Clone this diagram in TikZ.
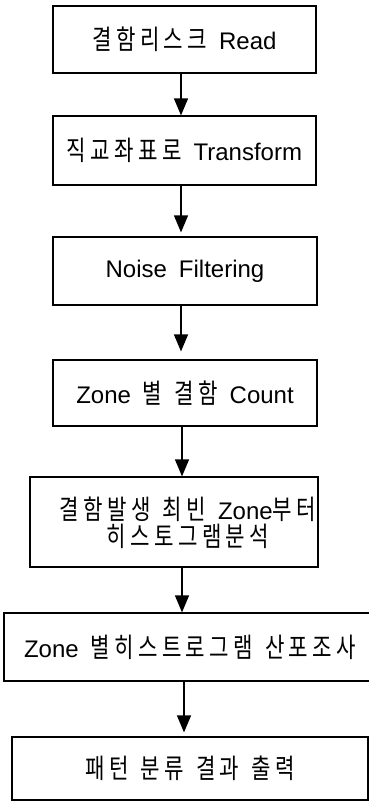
\documentclass[tikz,border=0pt]{standalone}
\usepackage{fontspec}
\setmainfont{Liberation Sans}[WordSpace=1.8]
\newfontfamily\kr{Noto Sans CJK KR}[Scale=1.13,FakeStretch=0.78,LetterSpace=16,WordSpace=1.8]
\usetikzlibrary{arrows.meta}
\begin{document}
\begin{tikzpicture}[x=1pt,y=-1pt,
  box/.style={draw=black, line width=1.2pt, rectangle, inner sep=0pt, align=center,
    font=\fontsize{24}{27}\selectfont},
  txt/.style={inner sep=0pt, align=center, font=\fontsize{24}{27}\selectfont},
  arr/.style={line width=1.3pt, -{Triangle[length=17pt,width=14pt]}}]
\useasboundingbox (0,0) rectangle (369,803);
\node[box, minimum width=263pt, minimum height=67pt] (b1) at (184.5,39.5) {{\kr 결함리스크} Read};
\node[box, minimum width=263pt, minimum height=69pt] (b2) at (184.5,150.5) {{\kr 직교좌표로} Transform};
\node[box, minimum width=264pt, minimum height=68pt] (b3) at (185,271) {Noise Filtering};
\node[box, minimum width=264pt, minimum height=66pt] (b4) at (185,393) {Zone {\kr 별} {\kr 결함} Count};
\node[box, minimum width=288pt, minimum height=90pt] (b5) at (174,522) {};
\node[txt] (t5) at (188,523) {{\kr 결함발생} {\kr 최빈} Zone{\kr 부터}\\{\kr 히스토그램분석}};
\node[box, minimum width=372pt, minimum height=68pt] (b6) at (190,647) {Zone {\kr 별히스트로그램} {\kr 산포조사}};
\node[box, minimum width=356pt, minimum height=63pt] (b7) at (190,768.5) {{\kr 패턴} {\kr 분류} {\kr 결과} {\kr 출력}};
\coordinate (ax1) at (181,0);
\coordinate (ax2) at (182,0);
\coordinate (ax3) at (184,0);
\draw[arr] (b1.south -| ax1) -- (b2.north -| ax1);
\draw[arr, shorten >=4pt] (b2.south -| ax1) -- (b3.north -| ax1);
\draw[arr, shorten >=8pt] (b3.south -| ax1) -- (b4.north -| ax1);
\draw[arr] (b4.south -| ax2) -- (b5.north -| ax2);
\draw[arr] (b5.south -| ax2) -- (b6.north -| ax2);
\draw[arr, shorten >=4pt] (b6.south -| ax3) -- (b7.north -| ax3);
\end{tikzpicture}
\end{document}
